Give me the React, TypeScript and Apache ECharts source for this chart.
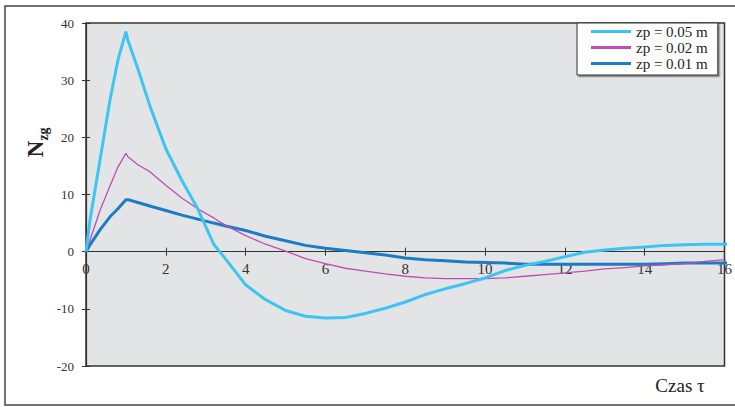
import React, { useEffect, useRef } from "react";
import * as echarts from "echarts";

// Time samples (τ) shared by all three curves
const tau = [0, 0.1, 0.35, 0.6, 0.8, 1.0, 1.05, 1.3, 1.6, 2.0, 2.4, 2.8, 3.2, 3.5, 4, 4.5, 5, 5.5, 6, 6.5, 7, 7.5, 8, 8.5, 9, 9.5, 10, 10.5, 11, 11.5, 12, 12.5, 13, 13.5, 14, 14.5, 15, 15.5, 16, 16.25];

// N_zg for zp = 0.05 m
const nzg005 = [0, 5.5, 16, 26.5, 33.5, 38.5, 37, 32, 25.5, 18, 12.5, 7.5, 1.3, -1.3, -5.8, -8.4, -10.3, -11.3, -11.6, -11.5, -10.8, -9.9, -8.8, -7.5, -6.5, -5.6, -4.6, -3.3, -2.4, -1.7, -0.9, -0.1, 0.3, 0.6, 0.8, 1.1, 1.2, 1.3, 1.3, 1.3];
// N_zg for zp = 0.02 m
const nzg002 = [0, 2, 7.2, 11.5, 14.8, 17.2, 16.6, 15.2, 14, 11.6, 9.4, 7.5, 5.9, 4.6, 2.8, 1.3, 0.1, -1.2, -2.1, -2.9, -3.4, -3.9, -4.3, -4.6, -4.7, -4.7, -4.7, -4.6, -4.3, -4.0, -3.7, -3.4, -3.0, -2.8, -2.5, -2.3, -2.1, -1.7, -1.4, -1.35];
// N_zg for zp = 0.01 m
const nzg001 = [0, 1.2, 3.8, 6.1, 7.5, 9.1, 9.1, 8.6, 8.0, 7.2, 6.4, 5.7, 5.0, 4.5, 3.7, 2.7, 1.9, 1.1, 0.6, 0.2, -0.2, -0.6, -1.1, -1.4, -1.6, -1.8, -1.9, -2.0, -2.2, -2.2, -2.2, -2.2, -2.2, -2.2, -2.2, -2.1, -2.0, -2.0, -2.0, -2.0];

const seriesNames = ["zp = 0.05 m", "zp = 0.02 m", "zp = 0.01 m"];
const seriesColors = ["#3ec4f2", "#c04db2", "#1b7cc3"];
const seriesWidths = [3, 1.3, 3];

// Axis ranges
const X_MIN = 0;
const X_MAX = 16;
const X_STEP = 2;
const Y_MIN = -20;
const Y_MAX = 40;
const Y_STEP = 10;

const WIDTH = 735;
const HEIGHT = 407;
const GRID = { left: 86, right: 10, top: 23, bottom: 41 };

const SERIF = "Liberation Serif";

export default function App() {
  const ref = useRef<HTMLDivElement>(null);

  useEffect(() => {
    if (!ref.current) return;
    const chart = echarts.init(ref.current, undefined, { renderer: "svg" });
    const values = [nzg005, nzg002, nzg001];

    // lift the time axis from the bottom of the plot up to N = 0
    const plotH = HEIGHT - GRID.top - GRID.bottom;
    const zeroOffset = -(plotH * (0 - Y_MIN)) / (Y_MAX - Y_MIN);

    const xBase = {
      type: "value",
      min: X_MIN,
      max: X_MAX,
      interval: X_STEP,
      position: "bottom",
      offset: zeroOffset,
      splitLine: { show: false },
    };
    const yBase = {
      type: "value",
      min: Y_MIN,
      max: Y_MAX,
      interval: Y_STEP,
      position: "left",
      splitLine: { show: false },
    };

    chart.setOption({
      animation: false,
      backgroundColor: "#ffffff",
      textStyle: { fontFamily: SERIF },
      grid: {
        ...GRID,
        show: true,
        backgroundColor: "#e3e4e6",
        borderColor: "#333",
        borderWidth: 1.5,
      },
      legend: {
        data: seriesNames.map((name) => ({ name, icon: "rect" })),
        orient: "vertical",
        left: 577,
        top: 23,
        width: 149,
        itemWidth: 40,
        itemHeight: 3,
        itemGap: 1,
        padding: [1, 10, 4, 14],
        backgroundColor: "#ffffff",
        borderColor: "#333",
        borderWidth: 1,
        shadowColor: "rgba(0,0,0,0.45)",
        shadowOffsetX: 1.5,
        shadowOffsetY: 1.5,
        shadowBlur: 0,
        textStyle: { fontFamily: SERIF, fontSize: 15, color: "#222" },
      },
      xAxis: [
        {
          ...xBase,
          axisLine: { onZero: false, lineStyle: { color: "#333", width: 1.2 } },
          axisTick: { show: true, inside: false, length: 4, lineStyle: { color: "#333" } },
          axisLabel: { fontFamily: SERIF, fontSize: 15, color: "#333", margin: 10 },
        },
        {
          ...xBase,
          axisLine: { show: false, onZero: false },
          axisTick: { show: true, inside: true, length: 4, lineStyle: { color: "#333" } },
          axisLabel: { show: false },
        },
      ],
      yAxis: [
        {
          ...yBase,
          axisLine: { show: true, onZero: false, lineStyle: { color: "#333", width: 1.2 } },
          axisTick: { show: true, inside: false, length: 4, lineStyle: { color: "#333" } },
          axisLabel: { fontFamily: SERIF, fontSize: 13, color: "#333", margin: 12 },
        },
        {
          ...yBase,
          axisLine: { show: false, onZero: false },
          axisTick: { show: true, inside: true, length: 4, lineStyle: { color: "#333" } },
          axisLabel: { show: false },
        },
      ],
      series: seriesNames.map((name, i) => ({
        name,
        type: "line",
        xAxisIndex: 0,
        yAxisIndex: 0,
        clip: false,
        showSymbol: false,
        symbol: "none",
        color: seriesColors[i],
        lineStyle: { color: seriesColors[i], width: seriesWidths[i] },
        data: tau.map((t, k) => [t, values[i][k]]),
        z: 3 - i,
      })),
      graphic: [
        {
          type: "rect",
          shape: { x: 5, y: 6, width: 740, height: 399 },
          style: { fill: "none", stroke: "#444", lineWidth: 1.5 },
          silent: true,
          z: 100,
        },
        {
          type: "text",
          x: 35,
          y: 149,
          rotation: Math.PI / 2,
          style: {
            text: "N",
            font: `bold 23px ${SERIF}`,
            fill: "#222",
            textAlign: "center",
            textVerticalAlign: "middle",
          },
        },
        {
          type: "text",
          x: 43,
          y: 134,
          rotation: Math.PI / 2,
          style: {
            text: "zg",
            font: `bold 14px ${SERIF}`,
            fill: "#222",
            textAlign: "center",
            textVerticalAlign: "middle",
          },
        },
        {
          type: "text",
          x: 680,
          y: 385,
          style: {
            text: "Czas τ",
            font: `19px ${SERIF}`,
            fill: "#222",
            textAlign: "center",
            textVerticalAlign: "middle",
          },
        },
      ],
    });

    return () => chart.dispose();
  }, []);

  return (
    <div
      ref={ref}
      style={{ position: "absolute", left: 0, top: 0, width: WIDTH, height: HEIGHT }}
    />
  );
}
